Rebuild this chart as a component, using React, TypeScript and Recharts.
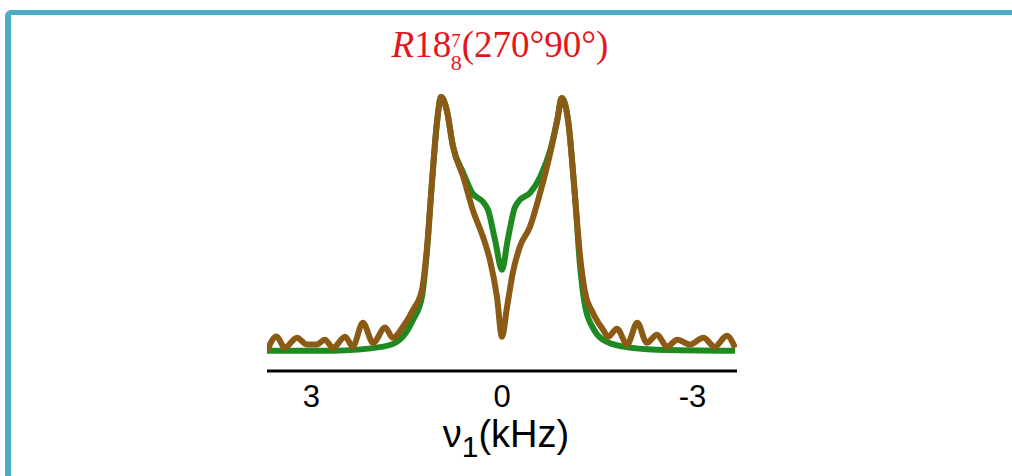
import { LineChart, Line, XAxis, YAxis } from 'recharts';

// frequency in kHz (axis is reversed: +3 on the left), intensity normalised to the peak
const brownFreq = [
  3.7, 3.55, 3.42, 3.23, 3.07, 2.92, 2.79, 2.66, 2.47, 2.35, 2.19, 2.03, 1.84, 1.72, 1.56, 1.4,
  1.26, 1.18, 1.1, 1.02, 0.96, 0.87, 0.77, 0.61, 0.46, 0.3, 0.19, 0.08, 0.0, -0.08, -0.17, -0.28,
  -0.44, -0.6, -0.76, -0.87, -0.94, -1.04, -1.15, -1.23, -1.31, -1.43, -1.59, -1.67, -1.81, -1.97,
  -2.13, -2.28, -2.44, -2.6, -2.76, -2.96, -3.17, -3.35, -3.54, -3.67,
];
const brownIntensity = [
  0.0, 0.056, 0.012, 0.051, 0.024, 0.024, 0.043, 0.012, 0.055, 0.016, 0.11, 0.031, 0.091, 0.051,
  0.094, 0.161, 0.24, 0.409, 0.673, 0.909, 1.0, 0.949, 0.803, 0.685, 0.555, 0.449, 0.358, 0.213,
  0.055, 0.173, 0.307, 0.409, 0.488, 0.622, 0.78, 0.909, 0.996, 0.909, 0.606, 0.37, 0.228, 0.15,
  0.083, 0.055, 0.087, 0.024, 0.11, 0.031, 0.063, 0.016, 0.043, 0.024, 0.051, 0.016, 0.059, 0.012,
];

const greenFreq = [
  3.7, 2.66, 1.87, 1.61, 1.4, 1.26, 1.18, 1.1, 1.02, 0.96, 0.87, 0.77, 0.61, 0.47, 0.3, 0.22, 0.11,
  0.0, -0.09, -0.2, -0.28, -0.44, -0.6, -0.76, -0.87, -0.94, -1.04, -1.15, -1.23, -1.31, -1.43,
  -1.59, -1.91, -2.44, -3.67,
];
const greenIntensity = [
  0.0, 0.0, 0.016, 0.043, 0.122, 0.213, 0.398, 0.673, 0.909, 1.0, 0.949, 0.803, 0.701, 0.622, 0.587,
  0.555, 0.437, 0.319, 0.437, 0.563, 0.594, 0.622, 0.685, 0.791, 0.909, 0.996, 0.909, 0.606, 0.331,
  0.173, 0.091, 0.043, 0.016, 0.004, 0.0,
];

const xTicks = [3, 0, -3];

const brownData = brownFreq.map((x, i) => ({ x, y: brownIntensity[i] }));
const greenData = greenFreq.map((x, i) => ({ x, y: greenIntensity[i] }));

const SANS = 'Liberation Sans, Arial, sans-serif';

const Tick = (props: any) => {
  const { x, y, payload } = props;
  return (
    <text x={x} y={y + 34} textAnchor="middle" fontFamily={SANS} fontSize={31} fill="#000">
      {payload.value}
    </text>
  );
};

const AxisLabel = (props: any) => {
  const vb = props.viewBox || { x: 0, y: 0, width: 0 };
  const cx = vb.x + vb.width / 2 + 4;
  const y = vb.y + 76;
  return (
    <text x={cx} y={y} textAnchor="middle" fontFamily={SANS} fill="#000">
      <tspan fontSize={38}>ν</tspan>
      <tspan fontSize={30} dy={10}>1</tspan>
      <tspan fontSize={38} dy={-10}>(kHz)</tspan>
    </text>
  );
};

export default function App() {
  return (
    <div
      style={{
        position: 'absolute',
        left: 0,
        top: 0,
        width: 1012,
        height: 476,
        overflow: 'hidden',
        background: '#fff',
      }}
    >
      <div
        style={{
          position: 'absolute',
          left: 5,
          top: 10,
          width: 1020,
          height: 480,
          borderTop: '5px solid #4bacc6',
          borderLeft: '6px solid #4bacc6',
          borderTopLeftRadius: 6,
        }}
      />
      <svg width={1012} height={80} style={{ position: 'absolute', left: 0, top: 0 }}>
        <text x={500} y={57} textAnchor="middle" fontFamily="Liberation Serif, Times New Roman, serif" fontSize={37} fill="#e3161e">
          <tspan fontStyle="italic">R</tspan>
          <tspan>18</tspan>
          <tspan fontSize={19} dy={-10}>7</tspan>
          <tspan fontSize={22} dx={-10} dy={23}>8</tspan>
          <tspan dy={-13}>(270°90°)</tspan>
        </text>
      </svg>
      <div style={{ position: 'absolute', left: 0, top: 0 }}>
        <LineChart width={1012} height={476} margin={{ top: 97, right: 275, bottom: 35, left: 267 }}>
          <XAxis
            dataKey="x"
            type="number"
            domain={[-3.7, 3.7]}
            reversed
            ticks={xTicks}
            allowDataOverflow
            height={70}
            tickSize={0}
            tickLine={false}
            axisLine={{ stroke: '#000', strokeWidth: 3 }}
            tick={<Tick />}
            label={<AxisLabel />}
          />
          <YAxis type="number" domain={[-0.08, 1]} hide />
          <Line
            data={greenData}
            dataKey="y"
            type="monotone"
            stroke="#208a22"
            strokeWidth={6}
            dot={false}
            isAnimationActive={false}
          />
          <Line
            data={brownData}
            dataKey="y"
            type="monotone"
            stroke="#8b5a15"
            strokeWidth={6}
            dot={false}
            isAnimationActive={false}
          />
        </LineChart>
      </div>
    </div>
  );
}
